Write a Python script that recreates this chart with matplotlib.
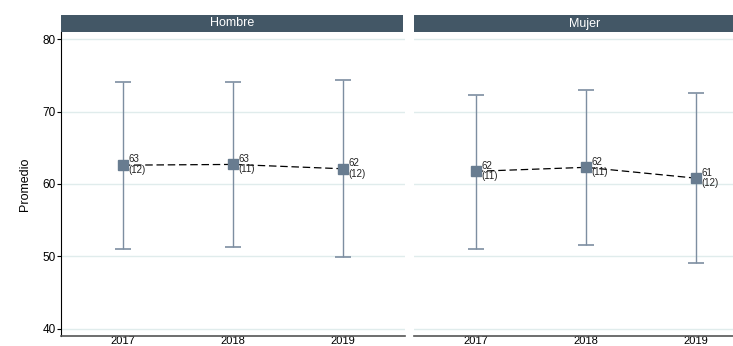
import matplotlib
matplotlib.use("Agg")
import matplotlib.pyplot as plt
from matplotlib.patches import Rectangle

years = [2017, 2018, 2019]
panels = ["Hombre", "Mujer"]
means = {"Hombre": [62.6, 62.7, 62.1], "Mujer": [61.75, 62.3, 60.8]}
upper = {"Hombre": [74.1, 74.1, 74.3], "Mujer": [72.3, 73.0, 72.5]}
lower = {"Hombre": [51.1, 51.3, 49.9], "Mujer": [51.1, 51.6, 49.1]}
mean_labels = {"Hombre": ["63", "63", "62"], "Mujer": ["62", "62", "61"]}
n_labels = {"Hombre": ["(12)", "(11)", "(12)"], "Mujer": ["(11)", "(11)", "(12)"]}
yticks = [40, 50, 60, 70, 80]

W, H = 733, 346
fig = plt.figure(figsize=(W / 100, H / 100), dpi=100)
plt.rcParams['font.family'] = ['Liberation Sans', 'DejaVu Sans']

strip_col = "#435766"
bar_col = "#7d8ea1"
mk_col = "#687c90"
grid_col = "#e0ecec"

lefts = [61, 414]
pw = 344
for i, (p, lx) in enumerate(zip(panels, lefts)):
    ax = fig.add_axes([lx / W, (H - 336) / H, pw / W, (336 - 32) / H])
    ax.set_xlim(2016.44, 2019.56)
    ax.set_ylim(39.03, 80.97)
    for yv in yticks:
        ax.axhline(yv, color=grid_col, lw=1.0, zorder=0)
    lo = [m - l for m, l in zip(means[p], lower[p])]
    hi = [u - m for m, u in zip(means[p], upper[p])]
    ax.errorbar(years, means[p], yerr=[lo, hi], fmt='none', ecolor=bar_col,
                elinewidth=1.0, capsize=6, capthick=1.2, zorder=2)
    ax.plot(years, means[p], ls=(0, (6, 3)), color='black', lw=0.9, zorder=3)
    ax.plot(years, means[p], ls='none', marker='s', ms=7, color=mk_col, zorder=4)
    for x, m, ml, nl in zip(years, means[p], mean_labels[p], n_labels[p]):
        ax.annotate(ml, (x, m), xytext=(4, 0.5), textcoords='offset points',
                    fontsize=7, ha='left', va='bottom', color='#222222')
        ax.annotate(nl, (x, m), xytext=(4, 0), textcoords='offset points',
                    fontsize=7, ha='left', va='top', color='#222222')
    ax.set_xticks(years)
    ax.set_xticklabels([str(y) for y in years], fontsize=8)
    ax.tick_params(axis='x', length=0, pad=0)
    for s in ['top', 'right']:
        ax.spines[s].set_visible(False)
    ax.spines['bottom'].set_color('#555555')
    ax.spines['bottom'].set_linewidth(1.2)
    if i == 0:
        ax.set_yticks(yticks)
        ax.set_yticklabels([str(v) for v in yticks], fontsize=8.5)
        ax.tick_params(axis='y', length=3, pad=1)
        ax.spines['left'].set_color('black')
        ax.set_ylabel("Promedio", fontsize=9, labelpad=8)
    else:
        ax.set_yticks(yticks)
        ax.set_yticklabels([])
        ax.tick_params(axis='y', length=0)
        ax.spines['left'].set_visible(False)
    sax = fig.add_axes([lx / W, (H - 32) / H, (pw - 2) / W, 17 / H])
    sax.set_xlim(0, 1); sax.set_ylim(0, 1)
    sax.axis('off')
    sax.add_patch(Rectangle((0, 0), 1, 1, color=strip_col, transform=sax.transAxes))
    sax.text(0.5, 0.5, p, color='white', fontsize=9, ha='center', va='center')

fig.savefig("out.png", dpi=100)
